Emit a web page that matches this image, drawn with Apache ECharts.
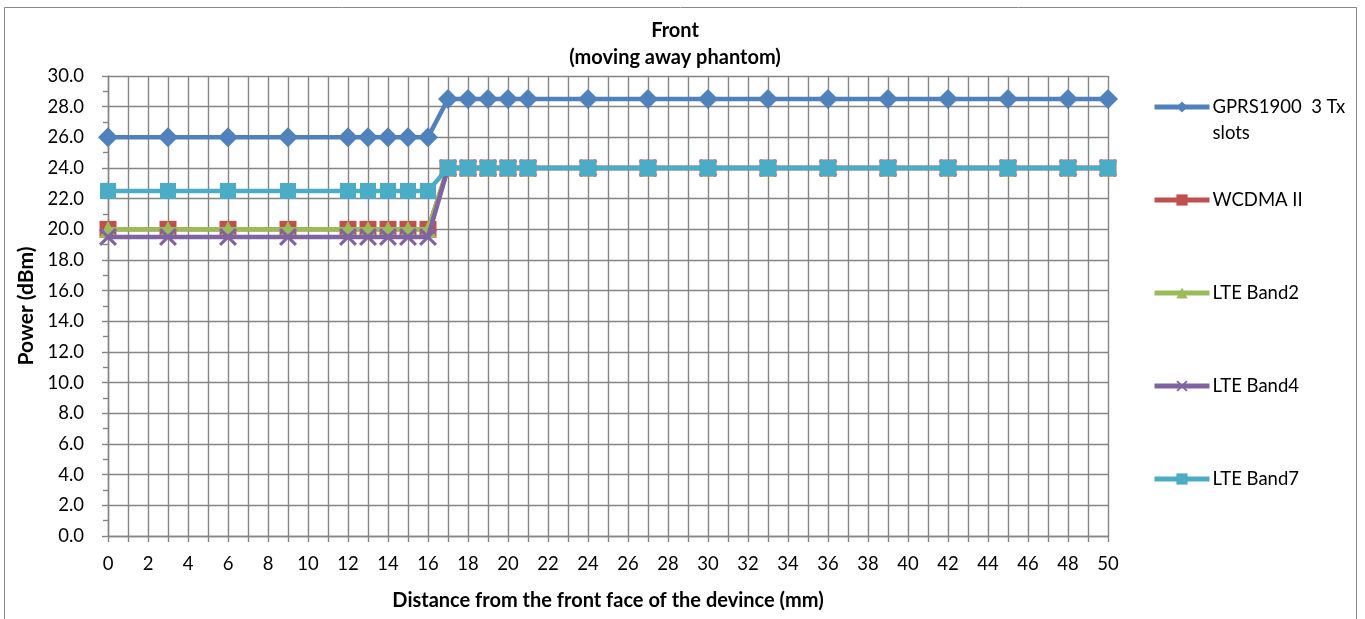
<!DOCTYPE html>
<html>
<head>
<meta charset="utf-8">
<script src="https://cdn.jsdelivr.net/npm/echarts@6/dist/echarts.min.js"></script>
<style>
html,body{margin:0;padding:0;background:#fff;}
#c{width:1365px;height:619px;}
</style>
</head>
<body>
<div id="c"></div>
<script>
const distances = [0,3,6,9,12,13,14,15,16,17,18,19,20,21,24,27,30,33,36,39,42,45,48,50];
const gprs1900  = [26,26,26,26,26,26,26,26,26,28.5,28.5,28.5,28.5,28.5,28.5,28.5,28.5,28.5,28.5,28.5,28.5,28.5,28.5,28.5];
const wcdmaII   = [20,20,20,20,20,20,20,20,20,24,24,24,24,24,24,24,24,24,24,24,24,24,24,24];
const lteBand2  = [20,20,20,20,20,20,20,20,20,24,24,24,24,24,24,24,24,24,24,24,24,24,24,24];
const lteBand4  = [19.5,19.5,19.5,19.5,19.5,19.5,19.5,19.5,19.5,24,24,24,24,24,24,24,24,24,24,24,24,24,24,24];
const lteBand7  = [22.5,22.5,22.5,22.5,22.5,22.5,22.5,22.5,22.5,24,24,24,24,24,24,24,24,24,24,24,24,24,24,24];
const seriesNames = ['GPRS1900  3 Tx slots','WCDMA II','LTE Band2','LTE Band4','LTE Band7'];
const titleText = 'Front\n(moving away phantom)';
const xAxisName = 'Distance from the front face of the devince (mm)';
const yAxisName = 'Power (dBm)';

const FONT = 'Lato';
const GRID_COL = '#858585';
const colors = ['#4F81BD','#C0504D','#9BBB59','#8064A2','#4BACC6'];
const xPath = 'path://M0,1.2 L1.2,0 L5,3.8 L8.8,0 L10,1.2 L6.2,5 L10,8.8 L8.8,10 L5,6.2 L1.2,10 L0,8.8 L3.8,5 Z';
const symbols = ['diamond','rect','triangle',xPath,'rect'];
const symbolSizes = [20,17,17,18,16];
const allData = [gprs1900, wcdmaII, lteBand2, lteBand4, lteBand7];

function pairs(arr){ return distances.map((d,i)=>[d,arr[i]]); }

const series = allData.map((arr,i)=>({
  name: seriesNames[i],
  type: 'line',
  data: pairs(arr),
  symbol: symbols[i],
  symbolSize: symbolSizes[i],
  showAllSymbol: true,
  lineStyle: {color: colors[i], width: 4.5},
  itemStyle: {color: colors[i], borderColor: colors[i], borderWidth: 0},
  emphasis: {disabled: true},
  animation: false,
  z: 2 + i
}));

const legendTops = [107, 200, 293, 386, 479];
const legends = seriesNames.map((n,i)=>({
  data: [n],
  orient: 'vertical',
  left: 1152,
  top: legendTops[i] - (i === 0 ? 39 : 13),
  itemWidth: 55,
  itemHeight: 14,
  itemGap: 0,
  padding: 0,
  selectedMode: false,
  lineStyle: {width: 5},
  formatter: i === 0 ? function(){ return '\nGPRS1900  3 Tx\nslots'; } : '{name}',
  textStyle: {fontFamily: FONT, fontSize: 18.5, color: '#000', lineHeight: 26, padding: [0,0,0,-2]}
}));

const chart = echarts.init(document.getElementById('c'), null, {renderer: 'canvas'});
chart.setOption({
  animation: false,
  backgroundColor: '#fff',
  title: {
    text: titleText,
    left: 670,
    top: 12,
    textAlign: 'center',
    textStyle: {fontFamily: FONT, fontSize: 20, fontWeight: 'bold', color: '#000', lineHeight: 27}
  },
  graphic: [{
    type: 'rect',
    shape: {x: 4.5, y: 7.5, width: 1352, height: 640},
    style: {fill: 'none', stroke: '#888', lineWidth: 1},
    silent: true, z: -1
  }],
  legend: legends,
  grid: {left: 108, right: 257, top: 76, bottom: 83, containLabel: false},
  xAxis: {
    type: 'value',
    min: 0, max: 50, interval: 2,
    name: xAxisName,
    nameLocation: 'middle',
    nameGap: 55,
    nameTextStyle: {fontFamily: FONT, fontSize: 20, fontWeight: 'bold', color: '#000'},
    axisLine: {show: true, onZero: false, lineStyle: {color: GRID_COL, width: 1.4}},
    axisTick: {show: true, length: 6, lineStyle: {color: GRID_COL, width: 1.4}},
    minorTick: {show: true, splitNumber: 2, length: 6, lineStyle: {color: GRID_COL, width: 1.4}},
    axisLabel: {fontFamily: FONT, fontSize: 18.5, color: '#000', margin: 19},
    splitLine: {show: true, lineStyle: {color: GRID_COL, width: 1.4}},
    minorSplitLine: {show: true, lineStyle: {color: GRID_COL, width: 1.4}}
  },
  yAxis: {
    type: 'value',
    min: 0, max: 30, interval: 2,
    name: yAxisName,
    nameLocation: 'middle',
    nameGap: 70,
    nameRotate: 90,
    nameTextStyle: {fontFamily: FONT, fontSize: 21, fontWeight: 'bold', color: '#000'},
    axisLine: {show: true, lineStyle: {color: GRID_COL, width: 1.4}},
    axisTick: {show: true, length: 6, lineStyle: {color: GRID_COL, width: 1.4}},
    minorTick: {show: true, splitNumber: 2, length: 5, lineStyle: {color: GRID_COL, width: 1.4}},
    axisLabel: {fontFamily: FONT, fontSize: 18.5, color: '#000', margin: 24, formatter: v => v.toFixed(1)},
    splitLine: {show: true, lineStyle: {color: GRID_COL, width: 1.4}},
    minorSplitLine: {show: false}
  },
  series: series
});
</script>
</body>
</html>
